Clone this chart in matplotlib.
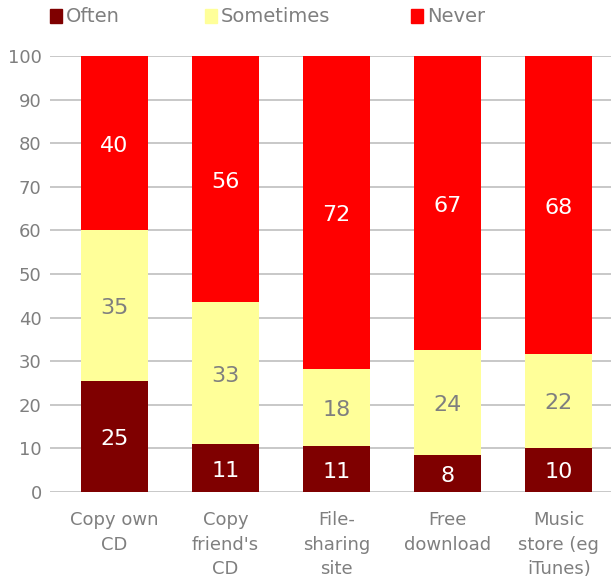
import matplotlib.pyplot as plt
from matplotlib.patches import Rectangle
import numpy as np

categories = ["Copy own\nCD", "Copy\nfriend's\nCD", "File-\nsharing\nsite",
              "Free\ndownload", "Music\nstore (eg\niTunes)"]
often = [25.4, 11.0, 10.6, 8.4, 10.2]
sometimes = [34.6, 32.6, 17.6, 24.2, 21.5]
never = [40.0, 56.4, 71.8, 67.4, 68.3]

series = ["Often", "Sometimes", "Never"]
colors = ["#7F0000", "#FFFF99", "#FF0000"]
label_colors = ["white", "#7F7F7F", "white"]

plt.rcParams['font.family'] = 'DejaVu Sans'

fig = plt.figure(figsize=(6.11, 5.81), dpi=100)
ax = fig.add_axes([50 / 611, 89 / 581, 561 / 611, 436 / 581])

x = np.arange(len(categories))
bottom = np.zeros(len(categories))
for vals, col, lcol in zip([often, sometimes, never], colors, label_colors):
    vals = np.array(vals)
    ax.bar(x, vals, width=0.6, bottom=bottom, color=col, zorder=3)
    for xi, b, v in zip(x, bottom, vals):
        ax.text(xi, b + v / 2 - 0.6, f"{round(v)}", ha='center', va='center',
                fontsize=16, color=lcol, zorder=4)
    bottom += vals

ax.set_xlim(-0.58, 4.47)
ax.set_ylim(0, 100)
ax.set_yticks(range(0, 101, 10))
ax.yaxis.grid(True, color='#BFBFBF', linewidth=1.2, zorder=0)
ax.set_axisbelow(True)
for s in ax.spines.values():
    s.set_visible(False)
ax.tick_params(axis='both', length=0, labelcolor='#7F7F7F', labelsize=13)
ax.tick_params(axis='y', pad=6)
ax.tick_params(axis='x', pad=14)
ax.set_xticks(x)
ax.set_xticklabels(categories, linespacing=1.45, multialignment='center')

# legend along the top
legend_x = [50, 205, 411]
for name, col, lx in zip(series, colors, legend_x):
    fig.add_artist(Rectangle((lx / 611, 1 - 23 / 581), 12 / 611, 14 / 581,
                             transform=fig.transFigure, color=col))
    fig.text((lx + 16) / 611, 1 - 16 / 581, name, fontsize=14,
             color='#7F7F7F', va='center', ha='left')

plt.savefig("out.png", dpi=100)
